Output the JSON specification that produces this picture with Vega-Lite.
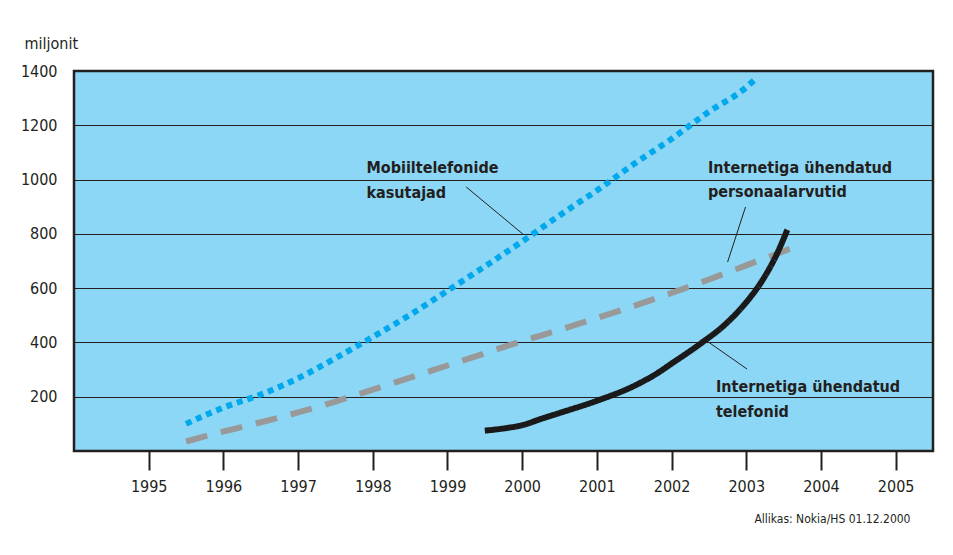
{
  "$schema": "https://vega.github.io/schema/vega-lite/v6.json",
  "width": 859,
  "height": 380,
  "autosize": {"type": "none"},
  "padding": {"left": 74, "top": 71, "right": 20, "bottom": 104},
  "background": "white",
  "config": {
    "font": "DejaVu Sans Condensed, Liberation Sans Narrow, Liberation Sans",
    "view": {"fill": "#8dd7f6", "stroke": "#231f20", "strokeWidth": 2.5}
  },
  "datasets": {
    "lines": [
      {"series": "mobile", "year": 1995.5, "value": 100},
      {"series": "mobile", "year": 1996, "value": 160},
      {"series": "mobile", "year": 1996.5, "value": 208},
      {"series": "mobile", "year": 1997, "value": 268},
      {"series": "mobile", "year": 1997.5, "value": 342},
      {"series": "mobile", "year": 1998, "value": 420},
      {"series": "mobile", "year": 1998.5, "value": 502},
      {"series": "mobile", "year": 1999, "value": 590},
      {"series": "mobile", "year": 1999.5, "value": 680},
      {"series": "mobile", "year": 2000, "value": 772},
      {"series": "mobile", "year": 2000.5, "value": 868},
      {"series": "mobile", "year": 2001, "value": 960},
      {"series": "mobile", "year": 2001.5, "value": 1058},
      {"series": "mobile", "year": 2002, "value": 1150},
      {"series": "mobile", "year": 2002.5, "value": 1250},
      {"series": "mobile", "year": 2003, "value": 1340},
      {"series": "mobile", "year": 2003.12, "value": 1370},
      {"series": "pc", "year": 1995.5, "value": 35},
      {"series": "pc", "year": 1996, "value": 72},
      {"series": "pc", "year": 1996.5, "value": 106},
      {"series": "pc", "year": 1997, "value": 142},
      {"series": "pc", "year": 1997.5, "value": 182},
      {"series": "pc", "year": 1998, "value": 226},
      {"series": "pc", "year": 1998.5, "value": 270},
      {"series": "pc", "year": 1999, "value": 315},
      {"series": "pc", "year": 1999.5, "value": 360},
      {"series": "pc", "year": 2000, "value": 405},
      {"series": "pc", "year": 2000.5, "value": 446},
      {"series": "pc", "year": 2001, "value": 490},
      {"series": "pc", "year": 2001.5, "value": 535},
      {"series": "pc", "year": 2002, "value": 582},
      {"series": "pc", "year": 2002.5, "value": 632},
      {"series": "pc", "year": 2003, "value": 684},
      {"series": "pc", "year": 2003.5, "value": 736},
      {"series": "pc", "year": 2003.75, "value": 762},
      {"series": "phone", "year": 1999.5, "value": 75},
      {"series": "phone", "year": 1999.8, "value": 85},
      {"series": "phone", "year": 2000, "value": 95},
      {"series": "phone", "year": 2000.25, "value": 118},
      {"series": "phone", "year": 2000.5, "value": 140},
      {"series": "phone", "year": 2001, "value": 185},
      {"series": "phone", "year": 2001.5, "value": 240},
      {"series": "phone", "year": 2001.8, "value": 285},
      {"series": "phone", "year": 2002, "value": 322},
      {"series": "phone", "year": 2002.4, "value": 398},
      {"series": "phone", "year": 2002.7, "value": 462},
      {"series": "phone", "year": 2003, "value": 548},
      {"series": "phone", "year": 2003.2, "value": 622},
      {"series": "phone", "year": 2003.4, "value": 720},
      {"series": "phone", "year": 2003.55, "value": 815}
    ],
    "labels": [
      {"text": "Mobiiltelefonide", "year": 1997.915, "value": 1024},
      {"text": "kasutajad", "year": 1997.915, "value": 932},
      {"text": "Internetiga ühendatud", "year": 2002.487, "value": 1024},
      {"text": "personaalarvutid", "year": 2002.487, "value": 936},
      {"text": "Internetiga ühendatud", "year": 2002.594, "value": 217},
      {"text": "telefonid", "year": 2002.594, "value": 125}
    ],
    "leaders": [
      {"year": 1999.25, "value": 973, "year2": 2000.01, "value2": 799},
      {"year": 2002.99, "value": 899, "year2": 2002.75, "value2": 696},
      {"year": 2002.49, "value": 402, "year2": 2003.01, "value2": 302}
    ]
  },
  "layer": [
    {
      "data": {"name": "lines"},
      "mark": {"type": "line", "interpolate": "monotone", "strokeWidth": 6, "strokeCap": "butt"},
      "encoding": {
        "x": {
          "field": "year", "type": "quantitative",
          "scale": {"domain": [1994, 2005.5], "nice": false, "zero": false},
          "axis": {
            "values": [1995, 1996, 1997, 1998, 1999, 2000, 2001, 2002, 2003, 2004, 2005],
            "format": "d",
            "grid": false,
            "domain": false,
            "tickSize": 19,
            "tickWidth": 2,
            "tickColor": "#231f20",
            "labelFontSize": 16,
            "labelColor": "#231f20",
            "labelPadding": 8,
            "title": "Allikas: Nokia/HS 01.12.2000",
            "titleFontSize": 12,
            "titleFontWeight": "normal",
            "titleColor": "#231f20",
            "titleX": 836,
            "titleY": 71,
            "titleAlign": "right",
            "titleAnchor": null,
            "titleBaseline": "alphabetic"
          }
        },
        "y": {
          "field": "value", "type": "quantitative",
          "scale": {"domain": [0, 1400], "nice": false},
          "axis": {
            "values": [200, 400, 600, 800, 1000, 1200, 1400],
            "format": "d",
            "grid": true,
            "gridColor": "#231f20",
            "gridWidth": 1,
            "gridOpacity": 1,
            "domain": false,
            "ticks": false,
            "labelFontSize": 16,
            "labelColor": "#231f20",
            "labelPadding": 17,
            "title": "miljonit",
            "titleAngle": 0,
            "titleFontSize": 16,
            "titleFontWeight": "normal",
            "titleColor": "#231f20",
            "titleX": -50,
            "titleY": -23,
            "titleAlign": "left",
            "titleAnchor": null,
            "titleBaseline": "alphabetic"
          }
        },
        "color": {
          "field": "series", "type": "nominal", "legend": null,
          "scale": {"domain": ["mobile", "pc", "phone"], "range": ["#00a8ec", "#999999", "#1a1a1a"]}
        },
        "strokeDash": {
          "field": "series", "type": "nominal", "legend": null,
          "scale": {"domain": ["mobile", "pc", "phone"], "range": [[6, 5], [22, 14], [1, 0]]}
        }
      }
    },
    {
      "data": {"name": "leaders"},
      "mark": {"type": "rule", "color": "#231f20", "strokeWidth": 1},
      "encoding": {
        "x": {"field": "year", "type": "quantitative"},
        "y": {"field": "value", "type": "quantitative"},
        "x2": {"field": "year2"},
        "y2": {"field": "value2"}
      }
    },
    {
      "data": {"name": "labels"},
      "mark": {"type": "text", "align": "left", "baseline": "alphabetic", "fontSize": 16, "fontWeight": "bold", "color": "#231f20"},
      "encoding": {
        "x": {"field": "year", "type": "quantitative"},
        "y": {"field": "value", "type": "quantitative"},
        "text": {"field": "text"}
      }
    }
  ]
}
